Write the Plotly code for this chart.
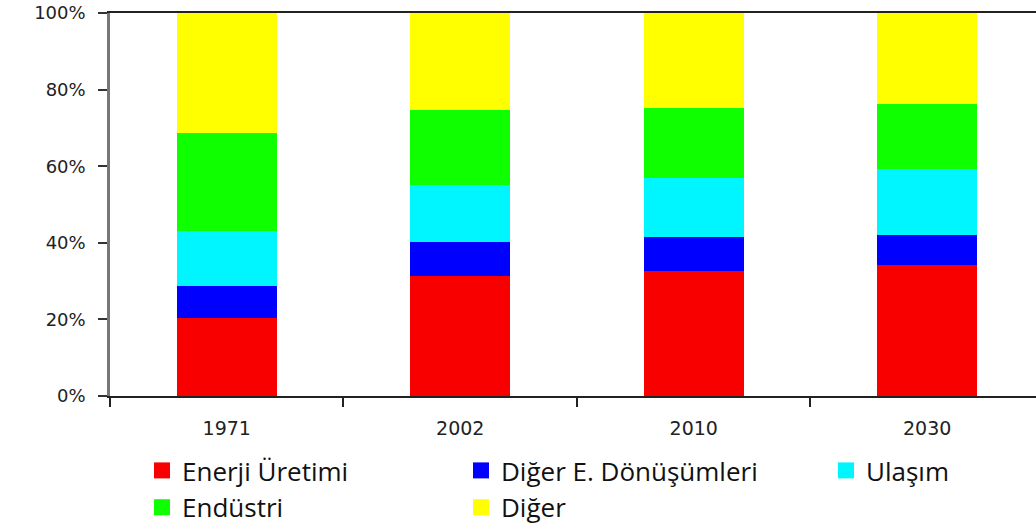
import plotly.graph_objects as go

# ---- data (percent shares) ----
years = ["1971", "2002", "2010", "2030"]
enerji_uretimi = [20.3, 31.4, 32.6, 34.3]
diger_donusum = [8.3, 8.9, 8.8, 7.7]
ulasim = [14.4, 14.9, 15.6, 17.2]
endustri = [25.6, 19.6, 18.3, 17.1]
diger = [31.4, 25.2, 24.7, 23.7]
y_ticks = [0, 20, 40, 60, 80, 100]
y_tick_labels = ["0%", "20%", "40%", "60%", "80%", "100%"]

series = [
    ("Enerji Üretimi", enerji_uretimi, "#F80000", "legend"),
    ("Diğer E. Dönüşümleri", diger_donusum, "#0000FF", "legend2"),
    ("Ulaşım", ulasim, "#00F6FF", "legend3"),
    ("Endüstri", endustri, "#10FF00", "legend"),
    ("Diğer", diger, "#FFFF00", "legend2"),
]

W, H = 1036, 524
fig = go.Figure()
for name, vals, color, lg in series:
    fig.add_trace(go.Bar(
        x=years, y=vals, name=name, marker_color=color, marker_line_width=0,
        width=0.43, showlegend=False, legendgroup=name,
    ))
    # legend swatch (larger square than the default bar symbol)
    fig.add_trace(go.Scatter(
        x=[None], y=[None], mode="markers", name=name, legendgroup=name,
        marker=dict(symbol="square", size=16, color=color, line=dict(width=0)),
        legend=lg, hoverinfo="skip",
    ))

legend_common = dict(
    orientation="v", xref="container", yref="container",
    xanchor="left", yanchor="top", bgcolor="rgba(0,0,0,0)",
    font=dict(family="Open Sans", size=26, color="#111"),
    tracegroupgap=0,
)
ytop = 1 - 447 / H
fig.update_layout(
    width=W, height=H,
    margin=dict(l=110, r=0, t=13, b=128, pad=0, autoexpand=False),
    paper_bgcolor="white", plot_bgcolor="white",
    barmode="stack", bargap=0.57,
    legend=dict(x=142 / W, y=ytop, **legend_common),
    legend2=dict(x=461 / W, y=ytop, **legend_common),
    legend3=dict(x=826 / W, y=ytop, **legend_common),
    xaxis=dict(
        type="category", categoryarray=years, range=[-0.5, 3.466], showgrid=False,
        showline=True, linecolor="#222", linewidth=1.5, mirror=True,
        ticks="outside", tickson="boundaries", ticklen=9, tickcolor="#222", tickwidth=1.5,
        tickfont=dict(family="DejaVu Sans", size=19, color="#222"),
        ticklabelstandoff=14, tickangle=0, automargin=False,
    ),
    yaxis=dict(
        range=[0, 100], tickmode="array", tickvals=y_ticks, ticktext=y_tick_labels,
        showgrid=False, showline=True, linecolor="#777", linewidth=2.5,
        ticks="outside", ticklen=9, tickcolor="#333", tickwidth=1.5,
        tickfont=dict(family="DejaVu Sans", size=18, color="#222"),
        ticklabelstandoff=9, zeroline=False, automargin=False,
    ),
)

fig.write_html(
    "out.html",
    config={"displayModeBar": False},
    post_script="document.body.style.margin='0';document.body.style.overflow='hidden';",
)
